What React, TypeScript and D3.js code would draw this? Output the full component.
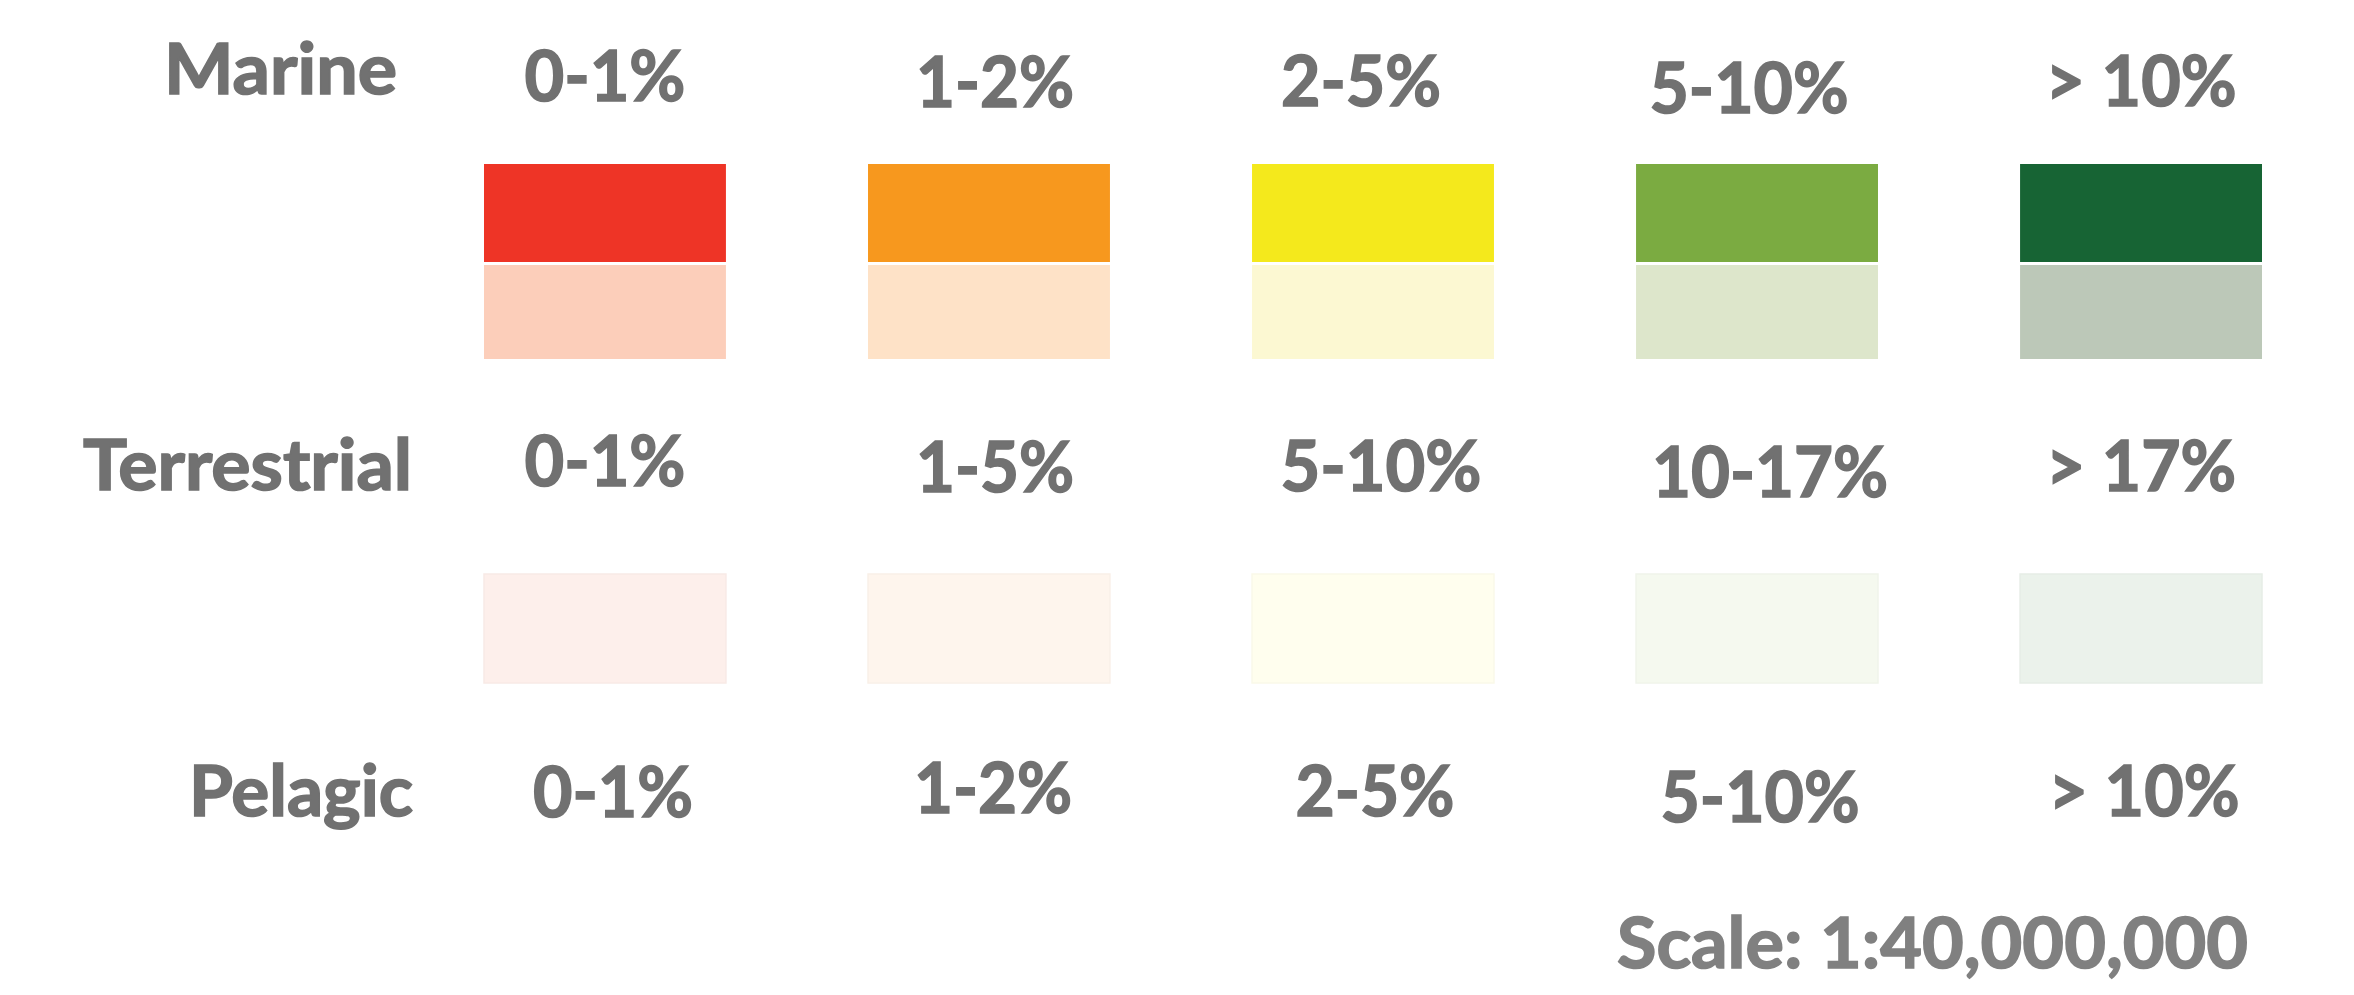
import React from "react";
import * as d3 from "d3";

// ---- data ----
const classes = ["c1", "c2", "c3", "c4", "c5"];
const marineLabels = ["0-1%", "1-2%", "2-5%", "5-10%", "> 10%"];
const terrestrialLabels = ["0-1%", "1-5%", "5-10%", "10-17%", "> 17%"];
const pelagicLabels = ["0-1%", "1-2%", "2-5%", "5-10%", "> 10%"];
const marineColors = ["#ee3426", "#f7981e", "#f4e91c", "#7bab41", "#176434"];
const marineLightColors = ["#fcceba", "#fee2c7", "#fcf8d2", "#dde6cb", "#bcc8b8"];
const terrestrialColors = ["#fdefeb", "#fef5ed", "#fffeee", "#f5f9ef", "#ebf2eb"];
const rowTitles = ["Marine", "Terrestrial", "Pelagic"];
const scaleText = "Scale: 1:40,000,000";

// ---- layout (hand-placed offsets from the original legend) ----
const W = 2354;
const H = 995;
const FONT = "Lato, 'Open Sans', sans-serif";
const FS = 71;
const GRAY = "#717171";
const THICK = 1.6;

const titleLayout = [
  { x: 164, y: 94, w: 233 },
  { x: 83, y: 490, w: 329 },
  { x: 189, y: 816, w: 224 },
];
const labelRows = [
  { labels: marineLabels, dx: [0, 6, -12, -8, 0], y: [101, 107, 106, 113, 106], w: [161, 158, 160, 199, 191] },
  { labels: terrestrialLabels, dx: [0, 6, 8, 13, 0], y: [486, 492, 491, 497, 491], w: [161, 158, 201, 236, 190] },
  { labels: pelagicLabels, dx: [8, 4, 2, 3, 3], y: [817, 813, 816, 822, 816], w: [160, 158, 159, 199, 191] },
];

export default function App() {
  const x = d3
    .scaleBand<string>()
    .domain(classes)
    .range([484, 2262])
    .paddingInner(0.37)
    .paddingOuter(0);
  const bw = x.bandwidth();

  const marineDark = d3.scaleOrdinal<string, string>().domain(classes).range(marineColors);
  const marineLight = d3.scaleOrdinal<string, string>().domain(classes).range(marineLightColors);
  const terr = d3.scaleOrdinal<string, string>().domain(classes).range(terrestrialColors);
  const terrStroke = (c: string) => d3.color(terr(c))!.darker(0.06).formatHex();

  return (
    <svg
      width={W}
      height={H}
      style={{ position: "absolute", left: 0, top: 0, background: "#fff" }}
      fontFamily={FONT}
      fontWeight={700}
    >
      <rect x={0} y={0} width={W} height={H} fill="#fff" />

      {rowTitles.map((t, i) => (
        <text
          key={t}
          x={titleLayout[i].x}
          y={titleLayout[i].y}
          fontSize={FS}
          fill={GRAY}
          stroke={GRAY}
          strokeWidth={THICK}
          textLength={titleLayout[i].w}
          lengthAdjust="spacingAndGlyphs"
        >
          {t}
        </text>
      ))}

      {labelRows.map((row, r) =>
        classes.map((c, i) => (
          <text
            key={`l${r}-${c}`}
            x={(x(c) as number) + bw / 2 + row.dx[i]}
            y={row.y[i]}
            fontSize={FS}
            fill={GRAY}
            stroke={GRAY}
            strokeWidth={THICK}
            textAnchor="middle"
            textLength={row.w[i]}
            lengthAdjust="spacingAndGlyphs"
          >
            {row.labels[i]}
          </text>
        ))
      )}

      {classes.map((c) => (
        <g key={`m-${c}`}>
          <rect x={x(c)} y={164} width={bw} height={98} fill={marineDark(c)} />
          <rect x={x(c)} y={265} width={bw} height={94} fill={marineLight(c)} />
        </g>
      ))}

      {classes.map((c) => (
        <rect
          key={`t-${c}`}
          x={x(c)}
          y={574}
          width={bw}
          height={109}
          fill={terr(c)}
          stroke={terrStroke(c)}
          strokeWidth={1.5}
        />
      ))}

      <text
        x={1617}
        y={968}
        fontSize={FS}
        fill="#808080"
        stroke="#808080"
        strokeWidth={THICK}
        textLength={631}
        lengthAdjust="spacingAndGlyphs"
      >
        {scaleText}
      </text>
    </svg>
  );
}
